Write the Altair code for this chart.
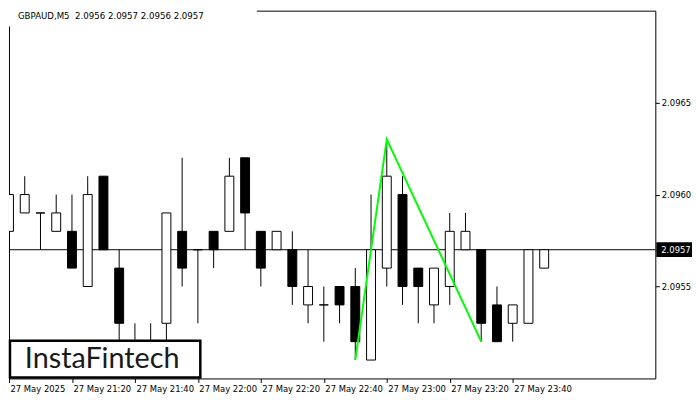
import altair as alt
import pandas as pd

title_text = "GBPAUD,M5\u00a0\u00a02.0956 2.0957 2.0956 2.0957"
date = "2025-05-27"
times = ["21:00", "21:05", "21:10", "21:15", "21:20", "21:25", "21:30", "21:35",
         "21:40", "21:45", "21:50", "21:55", "22:00", "22:05", "22:10", "22:15",
         "22:20", "22:25", "22:30", "22:35", "22:40", "22:45", "22:50", "22:55",
         "23:00", "23:05", "23:10", "23:15", "23:20", "23:25", "23:30", "23:35",
         "23:40", "23:45", "23:50"]
opens = [2.0958, 2.0959, 2.0959, 2.0958, 2.0958, 2.0955, 2.0961, 2.0956,
         2.0952, 2.0951, 2.0953, 2.0958, 2.0957, 2.0958, 2.0958, 2.0962,
         2.0958, 2.0957, 2.0957, 2.0954, 2.0954, 2.0955, 2.0955, 2.0951,
         2.0956, 2.0960, 2.0956, 2.0954, 2.0955, 2.0957, 2.0957, 2.0954,
         2.0953, 2.0953, 2.0956]
highs = [2.0960, 2.0961, 2.0959, 2.0960, 2.0960, 2.0961, 2.0961, 2.0957,
         2.0953, 2.0953, 2.0959, 2.0962, 2.0957, 2.0958, 2.0962, 2.0962,
         2.0958, 2.0958, 2.0958, 2.0957, 2.0955, 2.0955, 2.0956, 2.0960,
         2.0963, 2.0961, 2.0956, 2.0956, 2.0959, 2.0959, 2.0957, 2.0955,
         2.0954, 2.0957, 2.0957]
lows = [2.0957, 2.0959, 2.0957, 2.0958, 2.0956, 2.0955, 2.0957, 2.0951,
        2.0950, 2.0950, 2.0951, 2.0955, 2.0953, 2.0956, 2.0958, 2.0957,
        2.0955, 2.0957, 2.0954, 2.0953, 2.0952, 2.0953, 2.0951, 2.0951,
        2.0955, 2.0954, 2.0953, 2.0953, 2.0954, 2.0957, 2.0952, 2.0952,
        2.0952, 2.0953, 2.0956]
closes = [2.0960, 2.0960, 2.0959, 2.0959, 2.0956, 2.0960, 2.0957, 2.0953,
          2.0951, 2.0952, 2.0959, 2.0956, 2.0957, 2.0957, 2.0961, 2.0959,
          2.0956, 2.0958, 2.0955, 2.0955, 2.0954, 2.0954, 2.0952, 2.0957,
          2.0961, 2.0955, 2.0955, 2.0956, 2.0958, 2.0958, 2.0953, 2.0952,
          2.0954, 2.0957, 2.0957]
pattern_times = ["22:50", "23:00", "23:30"]
pattern_prices = [2.0951, 2.0963, 2.0952]
tick_times = ["21:00", "21:20", "21:40", "22:00", "22:20", "22:40", "23:00", "23:20", "23:40"]
y_ticks = [2.0955, 2.0960, 2.0965]
y_domain = [2.0950, 2.0970]
current_price = 2.0957
x_end = "2025-05-28T00:25:18Z"
brand = "InstaFintech"


def ts(hm):
    return f"{date}T{hm}:00Z"


def ms(s):
    return int(pd.Timestamp(s).value // 10**6)


W, H = 652, 371
FONT = "DejaVu Sans"
FS = 8.5

df = pd.DataFrame({"t": [ts(x) for x in times], "o": opens, "h": highs, "l": lows, "c": closes})
df["lo"] = df[["o", "c"]].min(axis=1)
df["hi"] = df[["o", "c"]].max(axis=1)
df["dir"] = ["up" if c >= o else "down" for o, c in zip(opens, closes)]

pat = pd.DataFrame({"t": [ts(x) for x in pattern_times], "p": pattern_prices})

x_scale = alt.Scale(type="utc", domain=[ms(ts("21:00")), ms(x_end)], padding=0)
y_scale = alt.Scale(domain=y_domain, nice=False, zero=False, padding=0)

x_axis = alt.Axis(
    values=[ms(ts(x)) for x in tick_times],
    labelExpr="utcFormat(datum.value, '%H:%M') == '21:00' ? '27 May 2025' : utcFormat(datum.value, '%d %b %H:%M')",
    title=None, grid=False, domain=False, tickSize=4, tickColor="black",
    labelAlign="left", labelPadding=2, labelOffset=1, labelFont=FONT, labelFontSize=FS,
    labelColor="black", labelFlush=False, labelOverlap=False,
)
y_axis = alt.Axis(
    orient="right", values=y_ticks, format=".4f", title=None, grid=False, domain=False,
    tickSize=4, tickColor="black", labelPadding=2, labelFont=FONT, labelFontSize=FS,
    labelColor="black",
)

X = alt.X("t:T", scale=x_scale, axis=x_axis)

base = alt.Chart(df)

bid_line = alt.Chart(pd.DataFrame({"p": [current_price]})).mark_rule(
    color="black", strokeWidth=1
).encode(y=alt.Y("p:Q", scale=y_scale, axis=y_axis))

wicks = base.mark_rule(color="black", strokeWidth=1, clip=True).encode(
    x=X, y=alt.Y("l:Q", scale=y_scale, axis=y_axis), y2="h:Q"
)
bodies = base.mark_bar(size=9, stroke="black", strokeWidth=1, clip=True).encode(
    x=X, y=alt.Y("lo:Q", scale=y_scale, axis=y_axis), y2="hi:Q",
    fill=alt.Fill("dir:N", scale=alt.Scale(domain=["up", "down"], range=["white", "black"]), legend=None),
)
pattern = alt.Chart(pat).mark_line(color="#00ff00", strokeWidth=2).encode(
    x=X, y=alt.Y("p:Q", scale=y_scale, axis=y_axis)
)

price_df = pd.DataFrame({"p": [current_price], "hi": [current_price + 0.00004],
                         "lo": [current_price - 0.00004], "label": [f"{current_price:.4f}"]})
price_box = alt.Chart(price_df).mark_rect(fill="black").encode(
    x=alt.value(W + 1), x2=alt.value(W + 37),
    y=alt.Y("hi:Q", scale=y_scale, axis=y_axis), y2="lo:Q",
)
price_text = alt.Chart(price_df).mark_text(
    color="white", align="left", baseline="middle", font=FONT, fontSize=FS
).encode(x=alt.value(W + 6), y=alt.Y("p:Q", scale=y_scale, axis=y_axis), text="label:N")

one = pd.DataFrame({"a": [0]})
logo_box = alt.Chart(one).mark_rect(fill="white", stroke="black", strokeWidth=2.5).encode(
    x=alt.value(1), x2=alt.value(193), y=alt.value(333), y2=alt.value(370)
)
logo_text = alt.Chart(pd.DataFrame({"s": [brand]})).mark_text(
    font="Lato", fontSize=29, color="#1a1a1a", align="center", baseline="middle"
).encode(x=alt.value(94), y=alt.value(351), text="s:N")

title_cover = alt.Chart(one).mark_rect(fill="white").encode(
    x=alt.value(-1), x2=alt.value(250), y=alt.value(-1), y2=alt.value(16)
)
title = alt.Chart(pd.DataFrame({"s": [title_text]})).mark_text(
    font=FONT, fontSize=8.7, color="black", align="left", baseline="middle"
).encode(x=alt.value(9), y=alt.value(5), text="s:N")

chart = alt.layer(
    bid_line, wicks, bodies, pattern, price_box, price_text, logo_box, logo_text, title_cover, title
).properties(width=W, height=H, padding=0, background="white").configure_view(
    stroke="black", strokeWidth=1
)

chart.save("out.html", embed_options={"renderer": "svg", "actions": False})
